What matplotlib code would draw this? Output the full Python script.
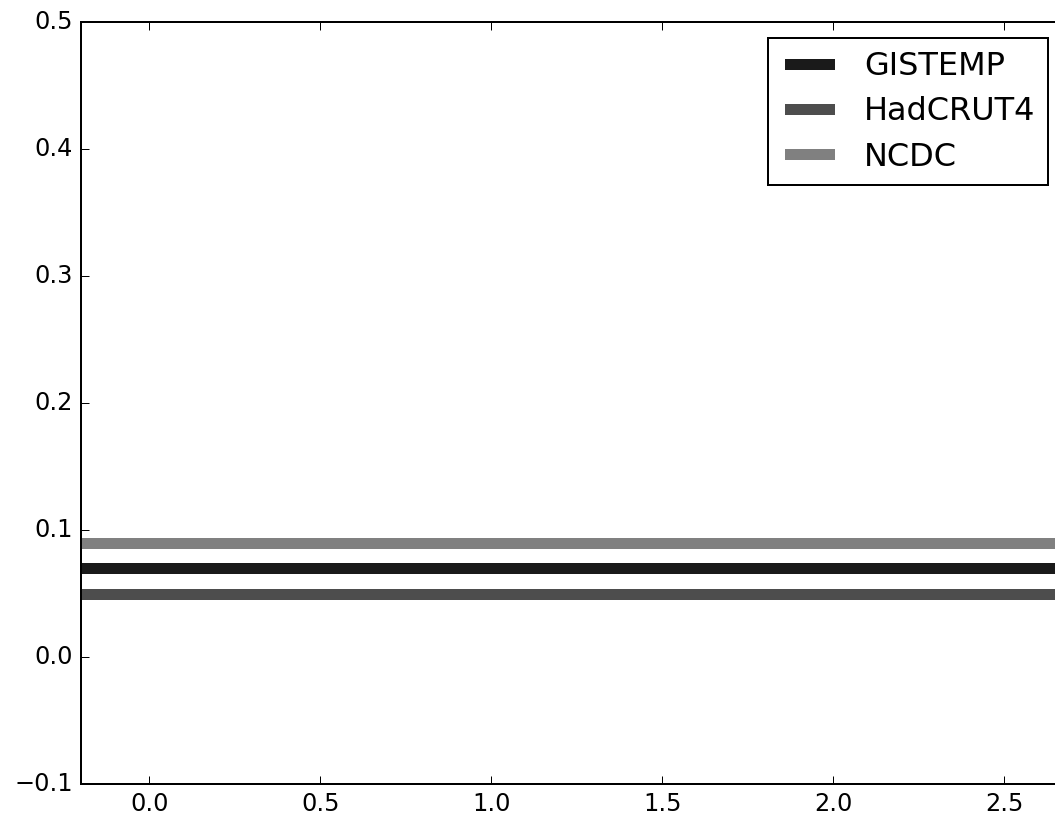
import matplotlib
matplotlib.use("Agg")
import matplotlib.pyplot as plt

# ── data ──────────────────────────────────────────────────────────────────────
SERIES  = ["GISTEMP", "HadCRUT4", "NCDC"]
LEVELS  = [0.07, 0.05, 0.09]
COLORS  = ["#1a1a1a", "#4d4d4d", "#808080"]

XLIM = (-0.2, 2.674)
YLIM = (-0.1, 0.5)

# ── plot ──────────────────────────────────────────────────────────────────────
plt.style.use("classic")
DPI = 144
fig = plt.figure(figsize=(1055 / DPI, 822 / DPI), dpi=DPI, facecolor="white")
# axes run a little past the right edge of the figure (cropped like the original)
ax = fig.add_axes([81 / 1055, 38 / 822, (1064 - 81) / 1055, (784 - 22) / 822])

for name, lvl, col in zip(SERIES, LEVELS, COLORS):
    ax.axhline(lvl, color=col, linewidth=5.5, label=name)

ax.set_xlim(*XLIM)
ax.set_ylim(*YLIM)
ax.set_xticks([0.0, 0.5, 1.0, 1.5, 2.0, 2.5])
ax.set_yticks([-0.1, 0.0, 0.1, 0.2, 0.3, 0.4, 0.5])
ax.tick_params(labelsize=12)

ax.legend(loc="upper right", fontsize=16, fancybox=False,
          handlelength=1.8, borderaxespad=0.5, labelspacing=0.45)

fig.savefig("out.png", dpi=DPI, facecolor="white")
